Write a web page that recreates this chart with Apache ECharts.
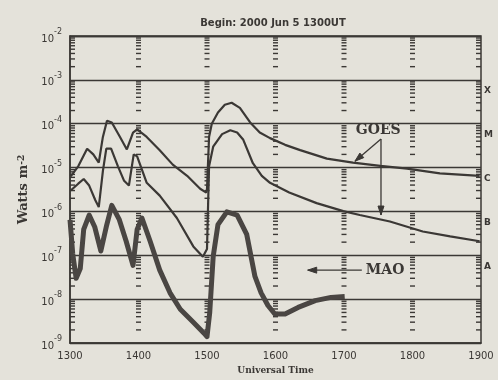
<!DOCTYPE html>
<html>
<head>
<meta charset="utf-8">
<script src="https://cdn.jsdelivr.net/npm/echarts@6/dist/echarts.min.js"></script>
<style>
  html, body { margin: 0; padding: 0; background: #e4e2da; }
  #chart { width: 498px; height: 380px; }
</style>
</head>
<body>
<div id="chart"></div>
<script>
// Universal time in decimal hours, flux in W m^-2
const goesLongTime = [13.01, 13.12, 13.25, 13.34, 13.42, 13.48, 13.54, 13.61, 13.73, 13.83, 13.92, 13.98,
  14.12, 14.31, 14.50, 14.71, 14.90, 14.99, 15.00, 15.03, 15.07, 15.16, 15.26, 15.36, 15.48, 15.63,
  15.77, 15.92, 16.14, 16.36, 16.75, 17.13, 17.53, 17.92, 18.40, 18.98];
const goesLongFlux = [6.3e-6, 1.07e-5, 2.7e-5, 2.0e-5, 1.3e-5, 5.0e-5, 1.17e-4, 1.07e-4, 5.0e-5, 2.6e-5, 6.3e-5, 7.4e-5,
  5.0e-5, 2.5e-5, 1.17e-5, 6.5e-6, 3.3e-6, 2.7e-6, 3.2e-6, 5.0e-5, 1.0e-4, 1.8e-4, 2.7e-4, 3.0e-4, 2.3e-4, 1.07e-4,
  6.3e-5, 4.7e-5, 3.3e-5, 2.5e-5, 1.6e-5, 1.3e-5, 1.1e-5, 9.5e-6, 7.4e-6, 6.5e-6];

const goesShortTime = [13.01, 13.12, 13.20, 13.28, 13.37, 13.42, 13.48, 13.53, 13.60, 13.70, 13.79, 13.86,
  13.93, 13.98, 14.12, 14.31, 14.56, 14.80, 14.94, 15.00, 15.03, 15.09, 15.22, 15.34, 15.44, 15.53,
  15.67, 15.80, 15.92, 16.20, 16.60, 16.99, 17.23, 17.67, 18.15, 18.55, 18.98];
const goesShortFlux = [3.0e-6, 4.3e-6, 5.5e-6, 3.9e-6, 1.8e-6, 1.26e-6, 8.3e-6, 2.7e-5, 2.7e-5, 1.07e-5, 5.0e-6, 3.9e-6,
  2.0e-5, 1.8e-5, 4.5e-6, 2.3e-6, 7.1e-7, 1.6e-7, 9.3e-8, 1.4e-7, 1.07e-5, 3.0e-5, 5.8e-5, 7.1e-5, 6.3e-5, 4.3e-5,
  1.26e-5, 6.5e-6, 4.5e-6, 2.7e-6, 1.55e-6, 1.02e-6, 8.3e-7, 5.9e-7, 3.5e-7, 2.7e-7, 2.1e-7];

const maoTime = [13.00, 13.04, 13.09, 13.15, 13.20, 13.28, 13.36, 13.45, 13.53, 13.61, 13.72, 13.82, 13.92,
  13.98, 14.05, 14.17, 14.31, 14.46, 14.61, 14.80, 14.96, 15.00, 15.04, 15.09, 15.16, 15.29, 15.44,
  15.58, 15.70, 15.79, 15.89, 15.99, 16.14, 16.33, 16.58, 16.81, 17.01];
const maoFlux = [6.5e-7, 1.07e-7, 3.0e-8, 5.0e-8, 3.9e-7, 8.3e-7, 4.5e-7, 1.26e-7, 4.5e-7, 1.38e-6, 6.5e-7, 2.1e-7, 5.9e-8,
  3.9e-7, 7.1e-7, 2.1e-7, 4.6e-8, 1.4e-8, 5.9e-9, 3.0e-9, 1.66e-9, 1.4e-9, 5.0e-9, 9.3e-8, 5.0e-7, 9.8e-7, 8.3e-7,
  3.0e-7, 3.3e-8, 1.4e-8, 7.2e-9, 4.6e-9, 4.6e-9, 6.5e-9, 9.3e-9, 1.1e-8, 1.15e-8];

// axis ticks
const hourTicks = [13, 14, 15, 16, 17, 18, 19];
const decadeExps = [-9, -8, -7, -6, -5, -4, -3];
const minorMults = [2, 3, 4, 5, 6, 7, 8, 9];
const classLetters = ['X', 'M', 'C', 'B', 'A'];
const classExps = [-3.25, -4.25, -5.25, -6.25, -7.25];

const INK = '#3b3835';
const pair = (t, f) => t.map((x, i) => [x, f[i]]);

// log minor tick marks along axes and hour columns
const tickMarks = [];
hourTicks.forEach(h => decadeExps.forEach(e => minorMults.forEach(m => tickMarks.push([h, m * Math.pow(10, e)]))));

const chart = echarts.init(document.getElementById('chart'));

chart.setOption({
  animation: false,
  backgroundColor: '#e4e2da',
  title: {
    text: 'Begin: 2000 Jun 5 1300UT',
    left: 268, top: 13, textAlign: 'center',
    textStyle: { fontFamily: 'DejaVu Sans', fontSize: 10, fontWeight: 'bold', color: INK }
  },
  grid: { left: 70, right: 17, top: 36, bottom: 28, show: true, borderColor: INK, borderWidth: 1.5 },
  xAxis: {
    type: 'value', min: 13, max: 19, interval: 1,
    name: 'Universal Time', nameLocation: 'middle', nameGap: 17,
    nameTextStyle: { fontFamily: 'DejaVu Serif', fontWeight: 'bold', fontSize: 9, color: INK },
    axisLine: { lineStyle: { color: INK, width: 1.5 } },
    axisTick: { show: false },
    splitLine: { show: false },
    axisLabel: { formatter: v => String(v * 100), fontFamily: 'DejaVu Sans', fontSize: 10, color: INK, margin: 8 }
  },
  yAxis: {
    type: 'log', logBase: 10, min: 1e-9, max: 1e-2,
    name: 'Watts m{sup|-2}', nameLocation: 'middle', nameGap: 40,
    nameTextStyle: {
      fontFamily: 'DejaVu Serif', fontWeight: 'bold', fontSize: 13, color: INK,
      rich: { sup: { fontFamily: 'DejaVu Serif', fontWeight: 'bold', fontSize: 9, verticalAlign: 'top', lineHeight: 9, color: INK } }
    },
    axisLine: { lineStyle: { color: INK, width: 1.5 } },
    axisTick: { show: false },
    splitLine: { show: true, lineStyle: { color: INK, width: 1.3 } },
    axisLabel: {
      margin: 8, color: INK,
      formatter: v => '{b|10}{s|' + Math.round(Math.log10(v)) + '}',
      rich: {
        b: { fontFamily: 'DejaVu Sans', fontSize: 10, lineHeight: 16, verticalAlign: 'bottom', color: INK },
        s: { fontFamily: 'DejaVu Sans', fontSize: 8, lineHeight: 8, verticalAlign: 'top', color: INK }
      }
    }
  },
  series: [
    {
      name: 'ticks', type: 'custom', silent: true, z: 1,
      data: tickMarks,
      renderItem: (params, api) => {
        const h = api.value(0);
        const p = api.coord([h, api.value(1)]);
        let x0 = p[0] - 2.5, x1 = p[0] + 2.5;
        if (h === 13) { x0 = p[0]; x1 = p[0] + 5; }
        if (h === 19) { x0 = p[0] - 5; x1 = p[0]; }
        return { type: 'line', shape: { x1: x0, y1: p[1], x2: x1, y2: p[1] }, style: { stroke: INK, lineWidth: 1.4 } };
      }
    },
    { name: 'GOES 1-8 A', type: 'line', data: pair(goesLongTime, goesLongFlux), showSymbol: false, z: 3,
      lineStyle: { color: INK, width: 2.2 } },
    { name: 'GOES 0.5-4 A', type: 'line', data: pair(goesShortTime, goesShortFlux), showSymbol: false, z: 3,
      lineStyle: { color: INK, width: 2.2 } },
    { name: 'MAO', type: 'line', data: pair(maoTime, maoFlux), showSymbol: false, z: 3,
      lineStyle: { color: '#4a4643', width: 5, join: 'round' } }
  ]
});

// annotations placed in data space
const px = (x, y) => chart.convertToPixel({ xAxisIndex: 0, yAxisIndex: 0 }, [x, y]);
const head = (tip, from, len, half) => {
  const dx = tip[0] - from[0], dy = tip[1] - from[1];
  const d = Math.hypot(dx, dy), ux = dx / d, uy = dy / d;
  const bx = tip[0] - ux * len, by = tip[1] - uy * len;
  return { type: 'polygon', z: 10, shape: { points: [tip, [bx - uy * half, by + ux * half], [bx + uy * half, by - ux * half]] },
    style: { fill: INK, stroke: INK, lineWidth: 1 } };
};
const line = (a, b) => ({ type: 'line', z: 10, shape: { x1: a[0], y1: a[1], x2: b[0], y2: b[1] }, style: { stroke: INK, lineWidth: 1.3 } });

const hub = px(17.54, 4.5e-5);
const tipLong = px(17.16, 1.4e-5);
const tipShort = px(17.54, 8.3e-7);
const goesText = px(17.5, 7.1e-5);
const maoText = px(17.6, 4.6e-8);
const maoFrom = px(17.26, 4.6e-8);
const maoTip = px(16.47, 4.6e-8);

const graphics = [
  line(hub, tipLong), head(tipLong, hub, 9, 3),
  line(hub, tipShort), head(tipShort, hub, 9, 3),
  line(maoFrom, maoTip), head(maoTip, maoFrom, 9, 3),
  { type: 'text', z: 10, x: goesText[0], y: goesText[1],
    style: { text: 'GOES', fill: INK, font: 'bold 14px "DejaVu Serif"', align: 'center', verticalAlign: 'middle' } },
  { type: 'text', z: 10, x: maoText[0], y: maoText[1],
    style: { text: 'MAO', fill: INK, font: 'bold 14px "DejaVu Serif"', align: 'center', verticalAlign: 'middle' } }
];
classLetters.forEach((c, i) => {
  const p = px(19, Math.pow(10, classExps[i]));
  graphics.push({ type: 'text', z: 10, x: p[0] + 3, y: p[1],
    style: { text: c, fill: INK, font: 'bold 9px "DejaVu Sans"', align: 'left', verticalAlign: 'middle' } });
});
chart.setOption({ graphic: graphics });
</script>
</body>
</html>
